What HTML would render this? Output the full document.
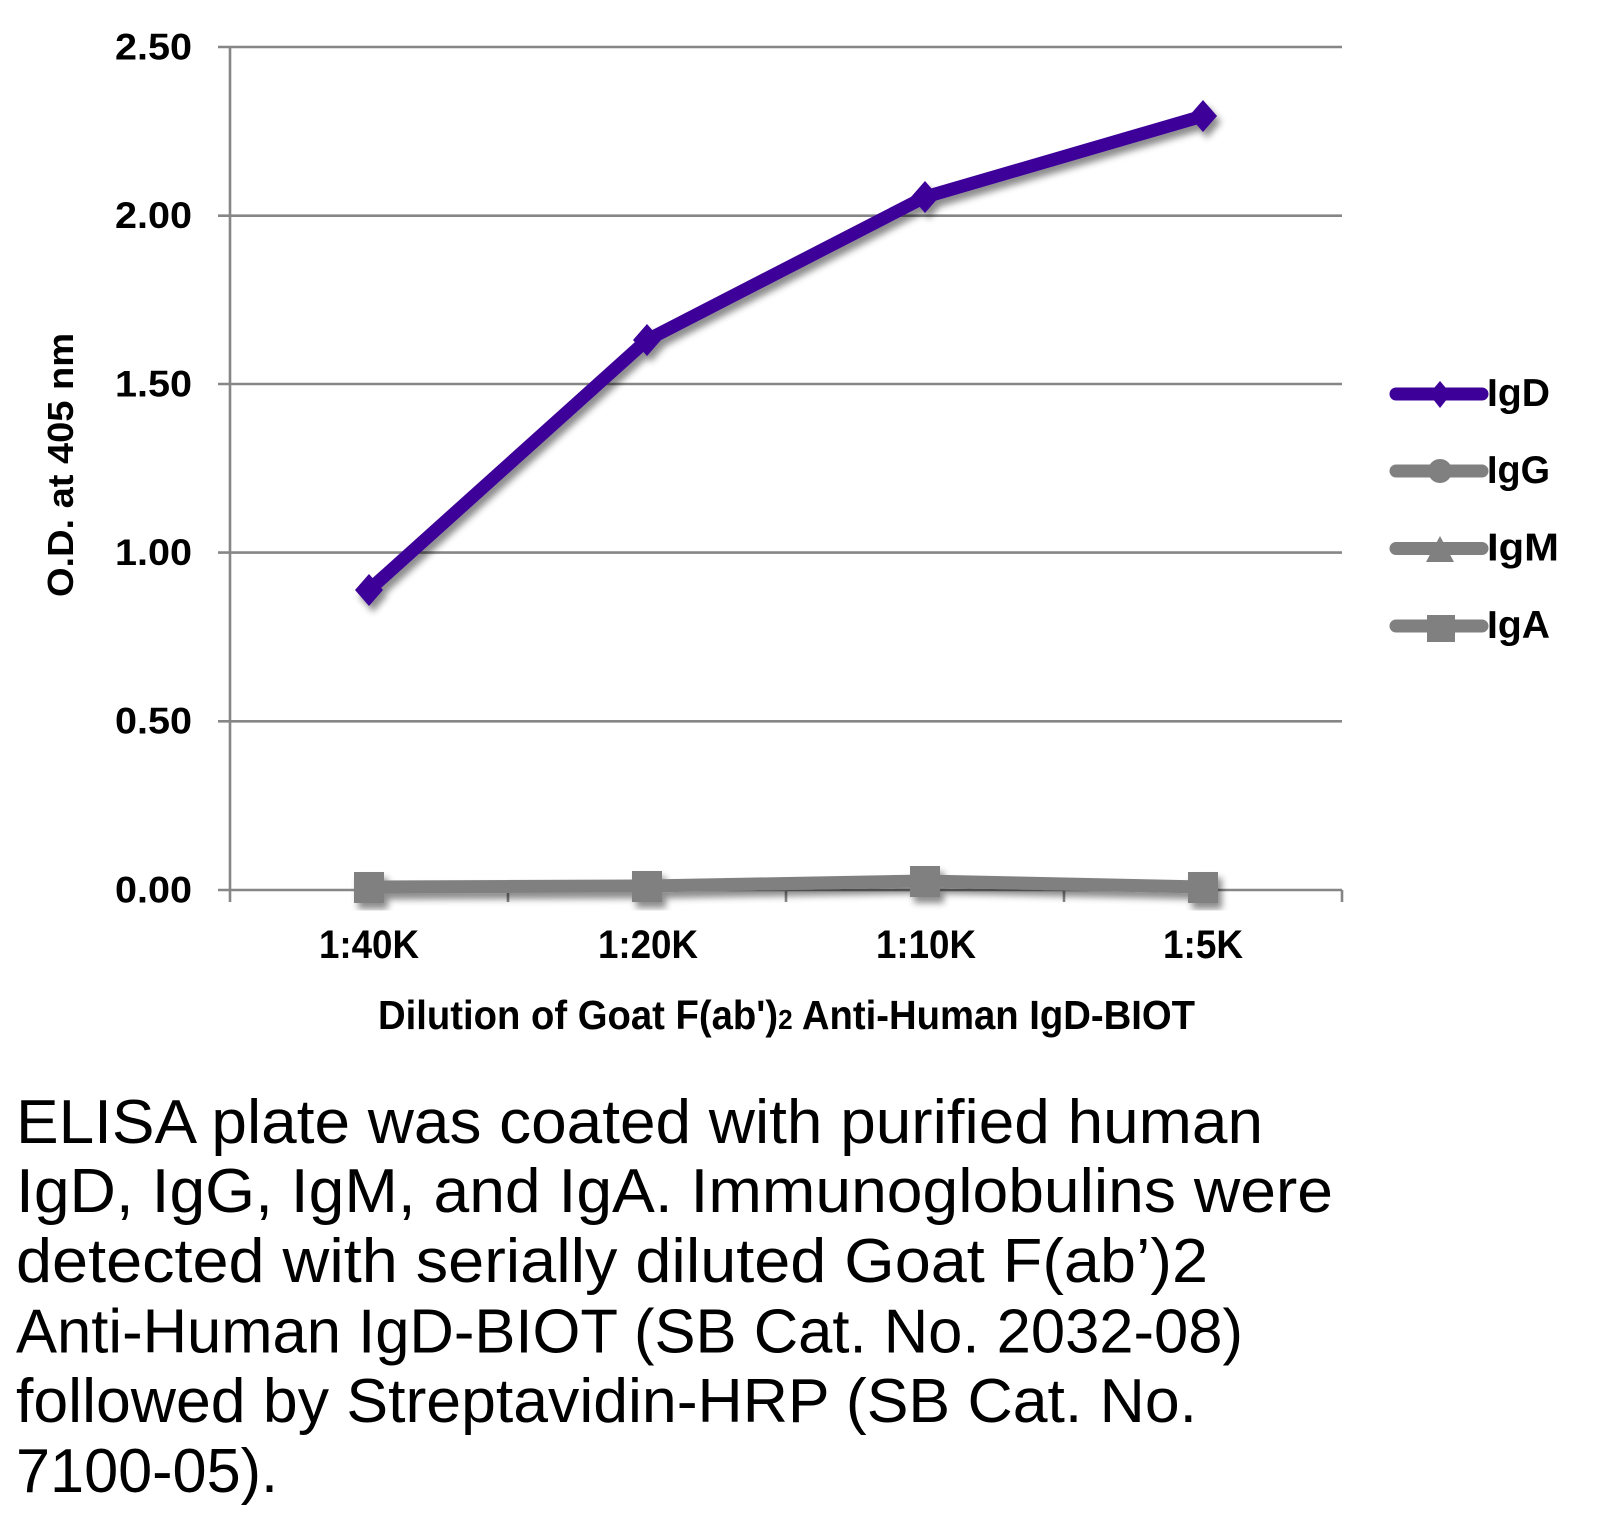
<!DOCTYPE html>
<html>
<head>
<meta charset="utf-8">
<style>
  html,body{margin:0;padding:0;background:#fff;}
  svg{display:block;}
  text{font-family:"Liberation Sans", sans-serif;}
</style>
</head>
<body>
<svg width="1603" height="1520" viewBox="0 0 1603 1520" xmlns="http://www.w3.org/2000/svg">
  <defs>
    <filter id="sh" x="-20%" y="-20%" width="140%" height="140%">
      <feDropShadow dx="4" dy="6" stdDeviation="3.5" flood-color="#000" flood-opacity="0.45"/>
    </filter>
  </defs>
  <rect width="1603" height="1520" fill="#fff"/>

  <!-- gridlines -->
  <g stroke="#868686" stroke-width="2.6">
    <line x1="218" y1="47" x2="1342" y2="47"/>
    <line x1="218" y1="215.7" x2="1342" y2="215.7"/>
    <line x1="218" y1="384" x2="1342" y2="384"/>
    <line x1="218" y1="552.6" x2="1342" y2="552.6"/>
    <line x1="218" y1="721.3" x2="1342" y2="721.3"/>
    <line x1="218" y1="890" x2="1342" y2="890"/>
    <!-- y axis -->
    <line x1="230" y1="47" x2="230" y2="902"/>
    <!-- x ticks -->
    <line x1="508" y1="890" x2="508" y2="902"/>
    <line x1="786" y1="890" x2="786" y2="902"/>
    <line x1="1064" y1="890" x2="1064" y2="902"/>
    <line x1="1342" y1="890" x2="1342" y2="902"/>
  </g>

  <!-- y tick labels -->
  <g font-weight="bold" font-size="37" fill="#000" text-anchor="end">
    <text x="192" y="59.5" textLength="77" lengthAdjust="spacingAndGlyphs">2.50</text>
    <text x="192" y="228" textLength="77" lengthAdjust="spacingAndGlyphs">2.00</text>
    <text x="192" y="396.5" textLength="77" lengthAdjust="spacingAndGlyphs">1.50</text>
    <text x="192" y="565" textLength="77" lengthAdjust="spacingAndGlyphs">1.00</text>
    <text x="192" y="733.5" textLength="77" lengthAdjust="spacingAndGlyphs">0.50</text>
    <text x="192" y="902.5" textLength="77" lengthAdjust="spacingAndGlyphs">0.00</text>
  </g>

  <!-- y axis title -->
  <text transform="translate(73,465) rotate(-90)" text-anchor="middle" font-weight="bold" font-size="36" textLength="264" lengthAdjust="spacingAndGlyphs">O.D. at 405 nm</text>

  <!-- x tick labels -->
  <g font-weight="bold" font-size="40" fill="#000" text-anchor="middle">
    <text x="369" y="958" textLength="100" lengthAdjust="spacingAndGlyphs">1:40K</text>
    <text x="648" y="958" textLength="100" lengthAdjust="spacingAndGlyphs">1:20K</text>
    <text x="926" y="958" textLength="100" lengthAdjust="spacingAndGlyphs">1:10K</text>
    <text x="1203" y="958" textLength="80" lengthAdjust="spacingAndGlyphs">1:5K</text>
  </g>

  <!-- x axis title -->
  <text x="378" y="1029" font-weight="bold" font-size="41" textLength="817" lengthAdjust="spacingAndGlyphs">Dilution of Goat F(ab')<tspan font-size="28">2</tspan> Anti-Human IgD-BIOT</text>

  <!-- gray series (IgG, IgM, IgA) -->
  <g filter="url(#sh)">
    <polyline points="369,887 647,886 925,881 1203,887" fill="none" stroke="#808080" stroke-width="13" stroke-linejoin="round"/>
    <g fill="#808080">
      <rect x="354" y="872" width="30" height="31"/>
      <rect x="632" y="871" width="30" height="31"/>
      <rect x="910" y="866" width="30" height="31"/>
      <rect x="1188" y="872" width="30" height="31"/>
    </g>
  </g>

  <!-- IgD series -->
  <g filter="url(#sh)">
    <polyline points="369,590 647,340 925,197 1203,116" fill="none" stroke="#3d0099" stroke-width="13" stroke-linejoin="round"/>
    <g fill="#3d0099">
      <polygon points="369,574 383,590 369,606 355,590"/>
      <polygon points="647,324 661,340 647,356 633,340"/>
      <polygon points="925,181 939,197 925,213 911,197"/>
      <polygon points="1203,100 1217,116 1203,132 1189,116"/>
    </g>
  </g>

  <!-- legend -->
  <g stroke-linecap="round" stroke-width="13">
    <line x1="1396" y1="394" x2="1482" y2="394" stroke="#3d0099"/>
    <line x1="1396" y1="471" x2="1482" y2="471" stroke="#808080"/>
    <line x1="1396" y1="548.5" x2="1482" y2="548.5" stroke="#808080"/>
    <line x1="1396" y1="626" x2="1482" y2="626" stroke="#808080"/>
  </g>
  <polygon points="1440,381 1451,394 1440,408 1429,394" fill="#3d0099"/>
  <circle cx="1440" cy="471" r="12" fill="#808080"/>
  <polygon points="1440,536 1454,562 1426,562" fill="#808080"/>
  <rect x="1427" y="615" width="28" height="27" fill="#808080"/>
  <g font-weight="bold" font-size="39" fill="#000">
    <text x="1487" y="406" textLength="63" lengthAdjust="spacingAndGlyphs">IgD</text>
    <text x="1487" y="483" textLength="63" lengthAdjust="spacingAndGlyphs">IgG</text>
    <text x="1487" y="560.5" textLength="72" lengthAdjust="spacingAndGlyphs">IgM</text>
    <text x="1487" y="638" textLength="63" lengthAdjust="spacingAndGlyphs">IgA</text>
  </g>

  <!-- caption -->
  <g font-size="62" fill="#000">
    <text x="16" y="1143" textLength="1247" lengthAdjust="spacingAndGlyphs">ELISA plate was coated with purified human</text>
    <text x="16" y="1212" textLength="1317" lengthAdjust="spacingAndGlyphs">IgD, IgG, IgM, and IgA.  Immunoglobulins were</text>
    <text x="16" y="1282" textLength="1192" lengthAdjust="spacingAndGlyphs">detected with serially diluted Goat F(ab’)2</text>
    <text x="16" y="1352.5" textLength="1227" lengthAdjust="spacingAndGlyphs">Anti-Human IgD-BIOT (SB Cat. No. 2032-08)</text>
    <text x="16" y="1422" textLength="1181" lengthAdjust="spacingAndGlyphs">followed by Streptavidin-HRP (SB Cat. No.</text>
    <text x="16" y="1492" textLength="262" lengthAdjust="spacingAndGlyphs">7100-05).</text>
  </g>
</svg>
</body>
</html>
